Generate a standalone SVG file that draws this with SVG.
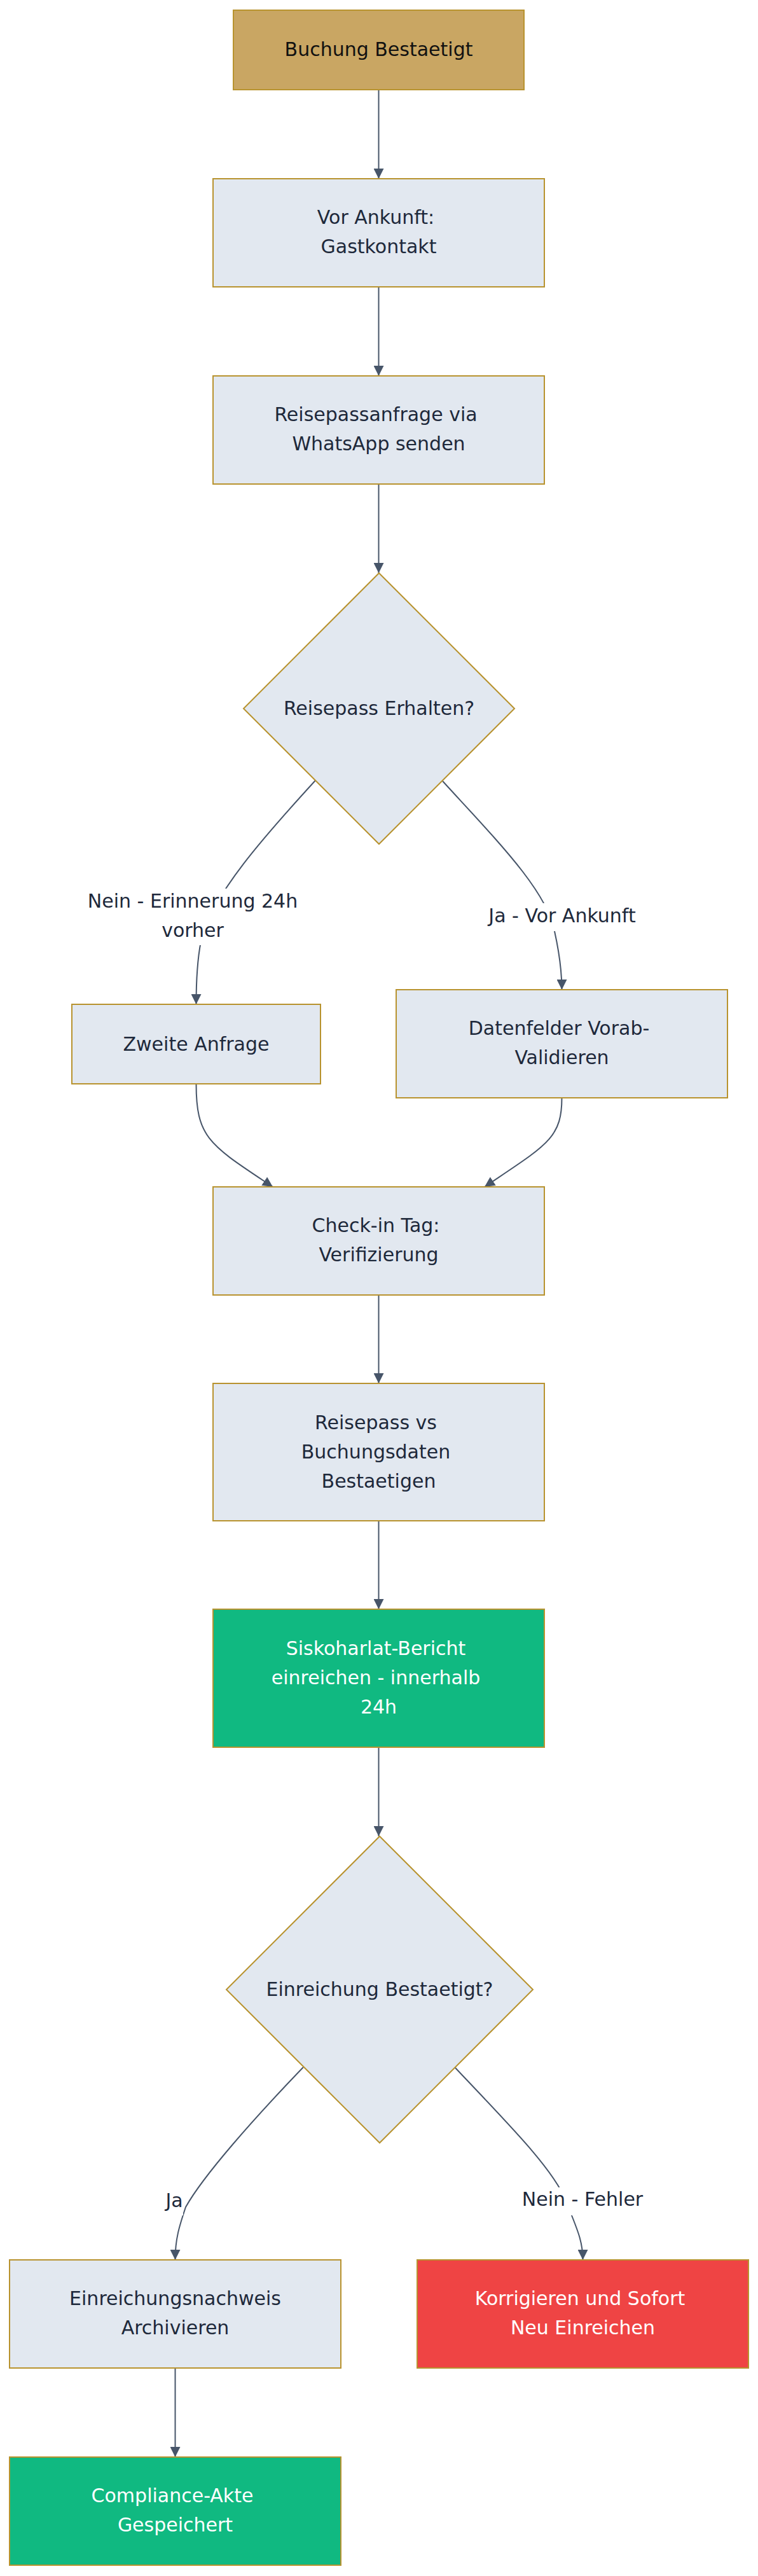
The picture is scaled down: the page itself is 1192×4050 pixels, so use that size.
<svg xmlns="http://www.w3.org/2000/svg" width="1192" height="4050" viewBox="0 0 1192 4050">
<style>
text{font-family:"DejaVu Sans","Liberation Sans",sans-serif;font-size:30px;text-anchor:middle;fill:#1e293b}
.n{fill:#e2e8f0;stroke:#b8932f;stroke-width:2}
.start{fill:#c9a663;stroke:#b8932f;stroke-width:2}
.ok{fill:#10b981;stroke:#b8932f;stroke-width:2}
.err{fill:#ef4444;stroke:#b8932f;stroke-width:2}
.w{fill:#ffffff}
.e{fill:none;stroke:#475569;stroke-width:2}
.lb{fill:#ffffff}
</style>
<defs>
<marker id="ah" markerUnits="userSpaceOnUse" markerWidth="16" markerHeight="16" viewBox="0 0 16 16" refX="16" refY="8" orient="auto">
<path d="M0,0 L16,8 L0,16 z" fill="#475569"/>
</marker>
</defs>
<g id="connectors">
<path class="e" d="M595.5,141 L595.5,281" marker-end="url(#ah)"/>
<path class="e" d="M595.5,451 L595.5,591" marker-end="url(#ah)"/>
<path class="e" d="M595.5,761 L595.5,901" marker-end="url(#ah)"/>
<path class="e" d="M496,1227 C420,1310 330,1410 316,1480 C310,1510 308.5,1540 308.5,1579" marker-end="url(#ah)"/>
<path class="e" d="M696,1228 C780,1320 860,1400 872,1464 C880,1500 883.5,1530 883.5,1556" marker-end="url(#ah)"/>
<path class="e" d="M308.5,1704 C308.5,1790 330,1800 429,1866" marker-end="url(#ah)"/>
<path class="e" d="M883.5,1726 C883.5,1790 860,1800 762,1866" marker-end="url(#ah)"/>
<path class="e" d="M595.5,2036 L595.5,2175" marker-end="url(#ah)"/>
<path class="e" d="M595.5,2391 L595.5,2530" marker-end="url(#ah)"/>
<path class="e" d="M595.5,2747 L595.5,2887" marker-end="url(#ah)"/>
<path class="e" d="M477,3250 C400,3330 320,3420 292,3470 C282,3500 275.5,3520 275.5,3553" marker-end="url(#ah)"/>
<path class="e" d="M715,3250 C800,3340 870,3410 890,3460 C905,3500 916.5,3520 916.5,3553" marker-end="url(#ah)"/>
<path class="e" d="M275.5,3723 L275.5,3863" marker-end="url(#ah)"/>
<g id="edge-labels">
<rect class="lb" x="137" y="1397" width="332" height="89"/>
<text x="303" y="1427">Nein - Erinnerung 24h</text>
<text x="303" y="1473">vorher</text>
<rect class="lb" x="751" y="1420" width="266" height="44"/>
<text x="884" y="1450">Ja - Vor Ankunft</text>
<rect class="lb" x="260" y="3440" width="28" height="43"/>
<text x="274" y="3470">Ja</text>
<rect class="lb" x="820" y="3439" width="192" height="44"/>
<text x="916" y="3468">Nein - Fehler</text>
</g>
</g>
<g id="n1"><rect class="start" x="367" y="16" width="457" height="125"/><text x="595.5" y="88" style="fill:#111">Buchung Bestaetigt</text></g>
<g id="n2"><rect class="n" x="335" y="281" width="521" height="170"/><text x="591" y="352">Vor Ankunft:</text><text x="595.5" y="398">Gastkontakt</text></g>
<g id="n3"><rect class="n" x="335" y="591" width="521" height="170"/><text x="591" y="662">Reisepassanfrage via</text><text x="595.5" y="708">WhatsApp senden</text></g>
<g id="d1"><polygon class="n" points="596,901 809,1114 596,1327 383,1114"/><text x="596" y="1124">Reisepass Erhalten?</text></g>
<g id="n4"><rect class="n" x="113" y="1579" width="391" height="125"/><text x="308.5" y="1652">Zweite Anfrage</text></g>
<g id="n5"><rect class="n" x="623" y="1556" width="521" height="170"/><text x="879" y="1627">Datenfelder Vorab-</text><text x="883.5" y="1673">Validieren</text></g>
<g id="n6"><rect class="n" x="335" y="1866" width="521" height="170"/><text x="591" y="1937">Check-in Tag:</text><text x="595.5" y="1983">Verifizierung</text></g>
<g id="n7"><rect class="n" x="335" y="2175" width="521" height="216"/><text x="591" y="2247">Reisepass vs</text><text x="591" y="2293">Buchungsdaten</text><text x="595.5" y="2339">Bestaetigen</text></g>
<g id="n8"><rect class="ok" x="335" y="2530" width="521" height="217"/><text class="w" x="591" y="2602">Siskoharlat-Bericht</text><text class="w" x="591" y="2648">einreichen - innerhalb</text><text class="w" x="595.5" y="2694">24h</text></g>
<g id="d2"><polygon class="n" points="597,2887 838,3128 597,3369 356,3128"/><text x="597" y="3138">Einreichung Bestaetigt?</text></g>
<g id="n9"><rect class="n" x="15" y="3553" width="521" height="170"/><text x="275.5" y="3624">Einreichungsnachweis</text><text x="275.5" y="3670">Archivieren</text></g>
<g id="n10"><rect class="err" x="656" y="3553" width="521" height="170"/><text class="w" x="912" y="3624">Korrigieren und Sofort</text><text class="w" x="916.5" y="3670">Neu Einreichen</text></g>
<g id="n11"><rect class="ok" x="15" y="3863" width="521" height="170"/><text class="w" x="271" y="3934">Compliance-Akte</text><text class="w" x="275.5" y="3980">Gespeichert</text></g>
</svg>
